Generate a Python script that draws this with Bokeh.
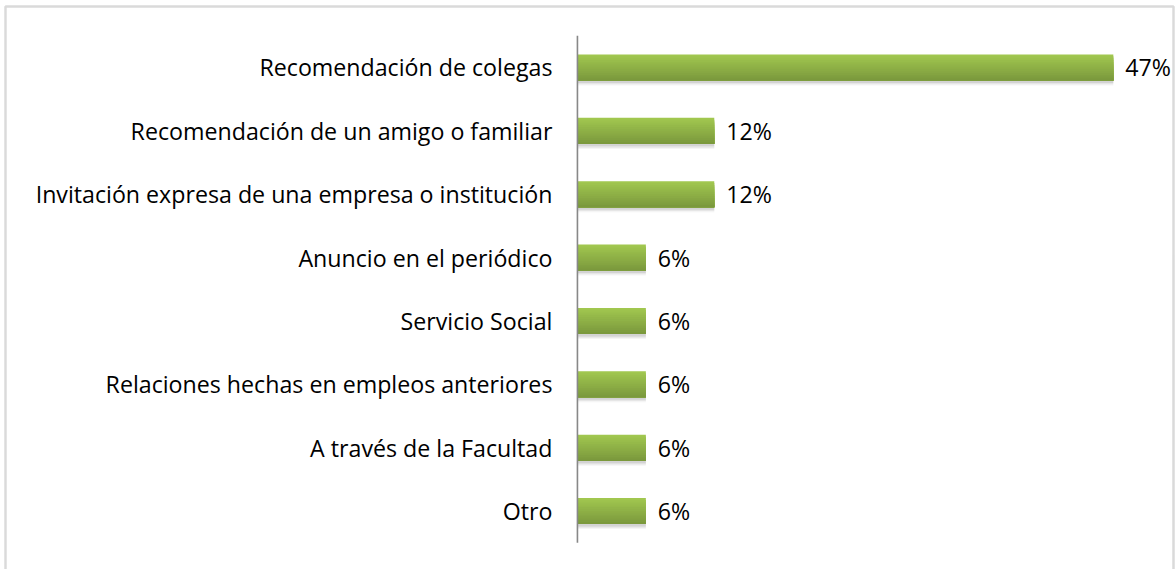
from bokeh.plotting import figure
from bokeh.models import ColumnDataSource, Range1d, BoxAnnotation
from bokeh.transform import dodge
from bokeh.core.properties import value
from bokeh.embed import file_html
from bokeh.resources import INLINE

categories = [
    "Recomendación de colegas",
    "Recomendación de un amigo o familiar",
    "Invitación expresa de una empresa o institución",
    "Anuncio en el periódico",
    "Servicio Social",
    "Relaciones hechas en empleos anteriores",
    "A través de la Facultad",
    "Otro",
]
values = [47, 12, 12, 6, 6, 6, 6, 6]
value_labels = ["47%", "12%", "12%", "6%", "6%", "6%", "6%", "6%"]

n = len(categories)
src = ColumnDataSource(dict(
    y=list(range(n)),
    cat=categories,
    val=values,
    lab=value_labels,
))

W, H = 1176, 569
p = figure(width=W, height=H, output_backend="svg", toolbar_location=None,
           x_axis_type=None, y_axis_type=None,
           x_range=Range1d(-50.6, 52.54), y_range=Range1d(7.923, -1.057),
           min_border=0, background_fill_color="white", border_fill_color="white")
p.grid.visible = False
p.outline_line_color = None

# chart border (bottom edge lies outside the window, as in the reference)
p.add_layout(BoxAnnotation(left=5, right=1173, top=6, bottom=600,
                           left_units="canvas", right_units="canvas",
                           top_units="canvas", bottom_units="canvas",
                           fill_color=None, line_color="#868686", line_width=2.5))

bh = 0.41
# shadow
for d, a in [(0.08, 0.08), (0.06, 0.12), (0.04, 0.18)]:
    p.hbar(y=dodge("y", d, range=p.y_range), left=0, right="val", height=bh,
           source=src, fill_color="#7f7f7f", fill_alpha=a, line_color=None)

def lerp(c1, c2, t):
    a = [int(c1[i:i + 2], 16) for i in (1, 3, 5)]
    b = [int(c2[i:i + 2], 16) for i in (1, 3, 5)]
    return "#%02x%02x%02x" % tuple(round(a[k] + (b[k] - a[k]) * t) for k in range(3))

# gradient bar: stacked slices, each from its top edge to the bar bottom
k = 14
top_c, bot_c = "#a1c74f", "#7b993d"
for j in range(k):
    hh = bh - j * bh / k
    off = -bh / 2 + j * bh / k + hh / 2
    p.hbar(y=dodge("y", off, range=p.y_range), left=0, right="val", height=hh,
           source=src, fill_color=lerp(top_c, bot_c, j / (k - 1)), line_color=None)

# category axis line
p.segment(x0=0, x1=0, y0=-0.5, y1=n - 0.5, line_color="#888888", line_width=1.6)

p.text(x=0, y="y", text="cat", source=src, x_offset=-25, text_align="right",
       text_baseline="middle", text_font=value("Open Sans"), text_font_size="23.2px",
       text_color="#000000")
p.text(x="val", y="y", text="lab", source=src, x_offset=12, text_align="left",
       text_baseline="middle", text_font=value("Open Sans"), text_font_size="23.2px",
       text_color="#000000")

open("out.html", "w").write(file_html(p, INLINE))
